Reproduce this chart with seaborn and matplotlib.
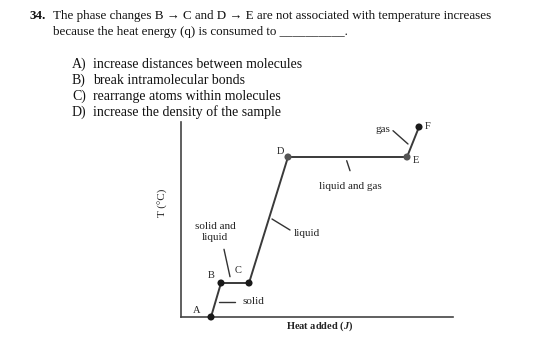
import matplotlib
matplotlib.use("Agg")
import matplotlib.pyplot as plt
import seaborn as sns
import pandas as pd

# ---- data ----
points = ["A", "B", "C", "D", "E", "F"]
heat = [0, 10, 38, 77, 196, 208]
temp = [0, 34, 34, 160, 160, 190]
point_colors = ["#1a1a1a", "#1a1a1a", "#1a1a1a", "#555555", "#555555", "#1a1a1a"]

question_num = "34."
question_lines = [
    "The phase changes B \u2192 C and D \u2192 E are not associated with temperature increases",
    "because the heat energy (q) is consumed to __________.",
]
options = [
    ("A)", "increase distances between molecules"),
    ("B)", "break intramolecular bonds"),
    ("C)", "rearrange atoms within molecules"),
    ("D)", "increase the density of the sample"),
]
x_label = "Heat added ($\\it{J}$)"
y_label = "T (\u00b0C)"

sns.set_theme(style="white")
plt.rcParams["font.family"] = ["Liberation Serif", "DejaVu Serif"]
plt.rcParams["mathtext.fontset"] = "custom"
plt.rcParams["mathtext.it"] = "Liberation Serif:italic:bold"

W, H = 560, 341
fig = plt.figure(figsize=(W / 100, H / 100), dpi=100)
fig.patch.set_facecolor("white")


def ft(x, y, s, **kw):
    fig.text(x / W, 1 - y / H, s, **kw)


qsize = 9.4
osize = 10
ft(30, 19, question_num, fontsize=qsize, fontweight="bold", va="baseline", color="#111111")
ft(53, 19, question_lines[0], fontsize=qsize, va="baseline", color="#111111")
ft(53, 35, question_lines[1], fontsize=qsize, va="baseline", color="#111111")
for i, (lab, txt) in enumerate(options):
    yb = 67.7 + i * 16
    ft(72, yb, lab, fontsize=osize, va="baseline", color="#111111")
    ft(93, yb, txt, fontsize=osize, va="baseline", color="#111111")

# chart axes: x 181..453 px, y 122..317 px
ax = fig.add_axes([181 / W, (H - 317) / H, (453 - 181) / W, (317 - 122) / H])
ax.set_facecolor("white")
ax.set_xlim(-30, 242)
ax.set_ylim(0, 195)
for s in ["top", "right"]:
    ax.spines[s].set_visible(False)
for s in ["left", "bottom"]:
    ax.spines[s].set_color("#444444")
    ax.spines[s].set_linewidth(1.2)
ax.set_xticks([])
ax.set_yticks([])

df = pd.DataFrame({"heat": heat, "temp": temp, "pt": points})
sns.lineplot(data=df, x="heat", y="temp", sort=False, color="#3a3a3a", linewidth=1.4,
             ax=ax, clip_on=False)
sns.scatterplot(data=df, x="heat", y="temp", hue="pt", palette=point_colors, s=26,
                edgecolor="none", legend=False, ax=ax, clip_on=False, zorder=5)
ax.set_xlabel("")
ax.set_ylabel("")

psize = 7.5
lsize = 8
lab_off = {"A": (-14.3, 6.3), "B": (-0.3, 41.3), "C": (27, 46.3),
           "D": (69, 165), "E": (204.7, 156.3), "F": (217, 190)}
for p in points:
    x, y = lab_off[p]
    ax.text(x, y, p, fontsize=psize, ha="center", va="center", color="#222222")

phase_labels = [
    ("gas", (172, 187), (182, 186.3), (197, 173)),
    ("liquid and gas", (139, 130.3), (135.7, 156.3), (139, 146.3)),
    ("liquid", (95.7, 83), (61, 98), (79, 87)),
    ("solid and\nliquid", (4, 85), (13, 67.7), (19, 40.3)),
    ("solid", (42, 16), (8.3, 15.3), (24, 15.3)),
]
for txt, pos, l0, l1 in phase_labels:
    ax.text(pos[0], pos[1], txt, fontsize=lsize, ha="center", va="center",
            color="#222222", linespacing=1.15)
    ax.plot([l0[0], l1[0]], [l0[1], l1[1]], color="#333333", linewidth=1.0, clip_on=False)

ax.text(109, -9.7, x_label, fontsize=7.5, fontweight="bold", ha="center", va="center",
        color="#222222", clip_on=False)
ax.text(-48, 114, y_label, fontsize=lsize, rotation=90, ha="center", va="center",
        color="#222222", clip_on=False)

fig.savefig("out.png", dpi=100, facecolor="white")
